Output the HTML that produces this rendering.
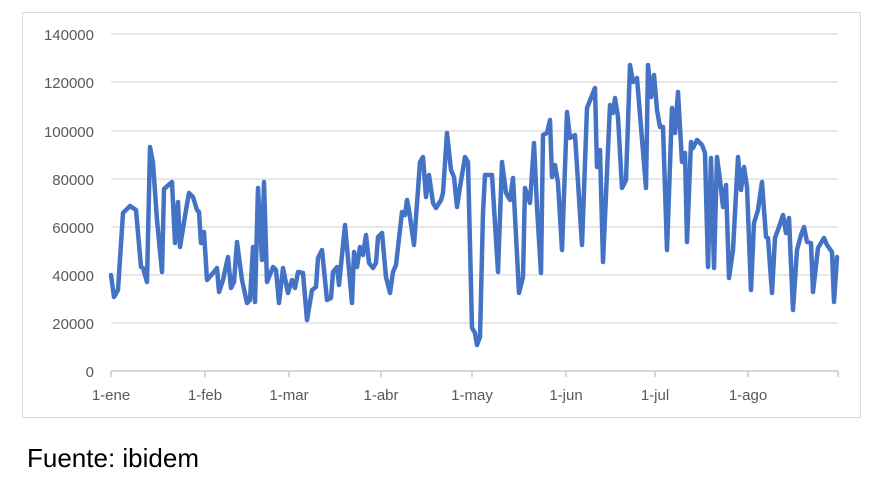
<!DOCTYPE html>
<html><head><meta charset="utf-8"><style>
body{margin:0;background:#fff;width:888px;height:479px;overflow:hidden;font-family:"Liberation Sans",sans-serif}
</style></head><body>
<svg width="888" height="479" xmlns="http://www.w3.org/2000/svg" font-family="Liberation Sans, sans-serif">
<rect x="22.5" y="12.5" width="838" height="405" fill="#fff" stroke="#d9d9d9"/>
<g stroke="#d9d9d9" stroke-width="1.3">
<line x1="111" x2="838" y1="34" y2="34"/><line x1="111" x2="838" y1="82" y2="82"/>
<line x1="111" x2="838" y1="131" y2="131"/><line x1="111" x2="838" y1="179" y2="179"/>
<line x1="111" x2="838" y1="227" y2="227"/><line x1="111" x2="838" y1="275" y2="275"/>
<line x1="111" x2="838" y1="323" y2="323"/>
</g>
<g stroke="#bfbfbf" stroke-width="1.3">
<line x1="111" x2="838" y1="371" y2="371"/>
<line x1="111" x2="111" y1="371" y2="377"/><line x1="205" x2="205" y1="371" y2="377"/>
<line x1="289" x2="289" y1="371" y2="377"/><line x1="381" x2="381" y1="371" y2="377"/>
<line x1="472" x2="472" y1="371" y2="377"/><line x1="566" x2="566" y1="371" y2="377"/>
<line x1="655" x2="655" y1="371" y2="377"/><line x1="748" x2="748" y1="371" y2="377"/>
<line x1="838" x2="838" y1="371" y2="377"/>
</g>
<g font-size="15" fill="#595959" text-anchor="end">
<text x="94" y="40">140000</text><text x="94" y="88">120000</text>
<text x="94" y="137">100000</text><text x="94" y="185">80000</text>
<text x="94" y="233">60000</text><text x="94" y="281">40000</text>
<text x="94" y="329">20000</text><text x="94" y="377">0</text>
</g>
<g font-size="15" fill="#595959" text-anchor="middle">
<text x="111" y="400">1-ene</text><text x="205" y="400">1-feb</text>
<text x="289" y="400">1-mar</text><text x="381" y="400">1-abr</text>
<text x="472" y="400">1-may</text><text x="566" y="400">1-jun</text>
<text x="655" y="400">1-jul</text><text x="748" y="400">1-ago</text>
</g>
<polyline fill="none" stroke="#4472c4" stroke-width="4.5" stroke-linejoin="round" stroke-linecap="round" points="
111,275 114,297 118,290 123,213 130,206 136,210 141,267 143,268 147,282 150,147 153,163 157,220 162,272 164,189 172,182 175,243 178,202 180,247 186,210 189,193 193,197 197,210 199,212 201,243 204,232 207,280 213,273 217,268 219,292 223,280 228,257 231,288 234,282 237,242 242,280 247,303 250,300 253,247 255,302 258,188 262,260 264,182 267,282 273,267 276,270 279,303 283,268 288,293 292,280 295,288 298,272 303,273 307,320 312,290 316,287 318,258 322,250 327,300 331,298 333,272 337,267 339,285 345,225 352,303 354,252 357,267 360,247 363,255 366,235 369,263 373,268 376,263 378,237 382,233 386,277 390,293 393,272 396,265 402,212 405,215 407,200 409,210 414,245 420,162 423,157 426,197 429,175 433,203 436,208 441,200 443,193 447,133 451,170 454,177 457,207 460,187 465,157 468,162 472,328 475,333 477,345 480,337 483,213 485,175 492,175 498,272 502,162 506,193 510,200 513,178 519,293 523,277 525,188 530,203 534,143 537,207 541,273 543,135 547,133 550,120 552,177 555,165 558,183 562,250 567,112 570,138 575,135 582,245 587,108 595,88 597,167 600,150 603,262 610,105 613,113 615,98 618,117 622,188 626,180 630,65 633,82 637,78 646,188 648,65 651,97 654,75 657,110 660,127 663,127 667,250 672,108 675,133 678,92 682,162 685,153 687,242 691,142 693,148 697,140 702,145 705,153 708,267 711,158 714,268 717,157 720,180 723,207 726,185 729,278 733,250 738,157 741,190 744,167 747,187 751,290 754,223 758,210 762,182 766,237 768,238 772,293 775,238 779,227 783,215 786,233 789,218 793,310 797,250 801,235 804,227 807,242 811,243 813,292 818,248 824,238 827,245 832,252 834,302 837,257"/>
<text x="27" y="467" font-size="26" fill="#000">Fuente: ibidem</text>
</svg>
</body></html>
